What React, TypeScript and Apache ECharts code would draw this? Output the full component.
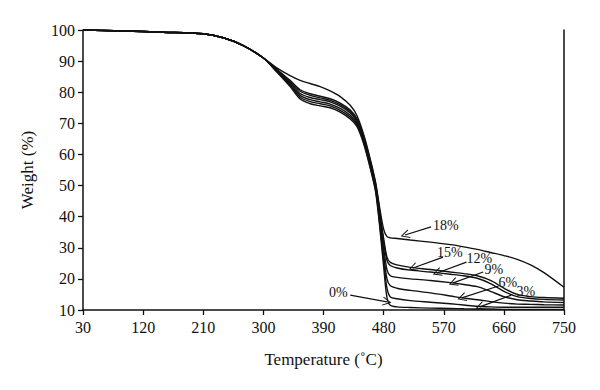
import React, { useEffect, useRef } from "react";
import * as echarts from "echarts";

// Temperature samples (°C)
const temps = [30, 90, 150, 210, 240, 270, 300, 320, 340, 355, 370, 385, 400, 415, 430, 440, 450, 460, 468, 474, 480, 485, 490, 500, 520, 550, 580, 600, 620, 640, 660, 680, 700, 720, 750];

// Weight (%) for each filler loading
const w18 = [100, 99.7, 99.3, 98.8, 97.5, 95, 91, 87.8, 85.3, 83.8, 82.8, 81.8, 80.4, 78.6, 75.8, 72.5, 66.5, 58.5, 51, 43, 36, 33.6, 33.2, 33, 32.5, 31.8, 31, 30.3, 29.5, 28.5, 27.5, 26.3, 24.5, 22, 17.3];
const w15 = [100, 99.7, 99.3, 98.8, 97.5, 95, 91, 87.4, 83.8, 80.8, 79.5, 78.7, 77.9, 76.5, 74.3, 71.5, 66, 58, 50.5, 42, 33, 27, 25.3, 24.5, 23.7, 23, 22.2, 21.7, 21, 19.5, 17, 15, 14.3, 14, 13.8];
const w12 = [100, 99.7, 99.3, 98.8, 97.5, 95, 91, 87.3, 83.4, 80.3, 79, 78.2, 77.4, 76, 73.8, 71, 65.5, 57.5, 50, 41, 32, 26, 24.3, 23.5, 22.8, 22.2, 21.5, 21, 20.2, 18.5, 16, 14.3, 13.7, 13.4, 13.2];
const w9 = [100, 99.7, 99.3, 98.8, 97.5, 95, 91, 87.1, 83, 79.6, 78.3, 77.6, 76.9, 75.5, 73.3, 70.5, 65, 57, 49.5, 40, 30, 23, 21, 20.5, 20, 19.5, 18.8, 18.2, 17.5, 16, 14.3, 13.3, 12.9, 12.6, 12.4];
const w6 = [100, 99.7, 99.3, 98.8, 97.5, 95, 91, 86.9, 82.6, 79, 77.6, 76.9, 76.2, 74.8, 72.6, 70, 64.5, 56.5, 49, 39, 28, 20, 17.8, 17, 16.3, 15.5, 14.5, 13.8, 13.3, 12.7, 12.2, 11.9, 11.8, 11.7, 11.6];
const w3 = [100, 99.7, 99.3, 98.8, 97.5, 95, 91, 86.7, 82.2, 78.4, 77, 76.3, 75.6, 74.2, 72, 69.5, 64, 56, 48.5, 38, 26, 17, 14.2, 13.6, 13, 12.5, 12, 11.6, 11.2, 11, 10.9, 10.9, 10.9, 10.9, 10.9];
const w0 = [100, 99.7, 99.3, 98.8, 97.5, 95, 91, 86.5, 81.8, 77.8, 76.3, 75.6, 75, 73.6, 71.4, 69, 63.5, 55.5, 48, 37, 24, 14, 11.5, 11, 10.8, 10.6, 10.5, 10.4, 10.3, 10.3, 10.2, 10.2, 10.2, 10.2, 10.2];

const seriesNames = ["18%", "15%", "12%", "9%", "6%", "3%", "0%"];
const seriesValues = [w18, w15, w12, w9, w6, w3, w0];

// Tick labels
const xTicks = [30, 120, 210, 300, 390, 480, 570, 660, 750];
const yTicks = [10, 20, 30, 40, 50, 60, 70, 80, 90, 100];

// Annotation anchors (data coords): label position, arrow start, arrow tip
const labelTemps = [554, 560, 604, 631, 652, 679, 426];
const labelWeights = [37.3, 28.6, 26.7, 22.9, 19.0, 16.1, 15.5];
const arrowFromTemps = [551, 569, 604, 629, 652, 671, 430];
const arrowFromWeights = [36.7, 27.0, 25.4, 22.2, 17.7, 14.8, 14.8];
const arrowToTemps = [512, 524, 560, 584, 597, 624, 485];
const arrowToWeights = [34.1, 23.5, 21.9, 18.7, 13.9, 11.0, 12.6];

const FONT = "'Liberation Serif', 'DejaVu Serif', serif";
const CHEVRON = "path://M0,0 L6,11 L4.8,11.6 L0,2.6 L-4.8,11.6 L-6,11 Z";

export default function App() {
  const ref = useRef<HTMLDivElement>(null);

  useEffect(() => {
    if (!ref.current) return;
    const chart = echarts.init(ref.current, undefined, { renderer: "svg" });

    const series: any[] = seriesNames.map((name, i) => ({
      name,
      type: "line",
      data: temps.map((t, k) => [t, seriesValues[i][k]]),
      smooth: 0.3,
      showSymbol: false,
      symbol: "none",
      lineStyle: { color: "#111", width: 1.4 },
      z: 2,
      markLine: {
        silent: true,
        symbol: ["none", CHEVRON],
        symbolSize: [9, 9],
        label: { show: false },
        lineStyle: { color: "#111", width: 1.2, type: "solid" },
        itemStyle: { color: "#111" },
        data: [
          [
            { coord: [arrowFromTemps[i], arrowFromWeights[i]] },
            { coord: [arrowToTemps[i], arrowToWeights[i]] },
          ],
        ],
      },
    }));

    const option: any = {
      animation: false,
      backgroundColor: "#fff",
      grid: { left: 83, right: 36, top: 30, bottom: 80, containLabel: false },
      xAxis: {
        type: "value",
        min: 30,
        max: 750,
        name: "Temperature (˚C)",
        nameLocation: "middle",
        nameGap: 41,
        nameTextStyle: { fontFamily: FONT, fontSize: 17, color: "#111" },
        axisLine: { show: true, onZero: false, lineStyle: { color: "#111", width: 1.5 } },
        axisTick: { show: true, length: 5, inside: false, customValues: xTicks, lineStyle: { color: "#111", width: 1.3 } },
        axisLabel: { customValues: xTicks, fontFamily: FONT, fontSize: 16, color: "#111", margin: 9 },
        splitLine: { show: false },
      },
      yAxis: [
        {
          type: "value",
          min: 10,
          max: 100,
          interval: 10,
          name: "Weight (%)",
          nameLocation: "middle",
          nameGap: 47,
          nameRotate: 90,
          nameTextStyle: { fontFamily: FONT, fontSize: 17, color: "#111" },
          axisLine: { show: true, onZero: false, lineStyle: { color: "#111", width: 1.5 } },
          axisTick: { show: true, length: 5, lineStyle: { color: "#111", width: 1.3 } },
          axisLabel: {
            fontFamily: FONT,
            fontSize: 16,
            color: "#111",
            margin: 8,
            formatter: (v: number) => (yTicks.includes(v) ? String(v) : ""),
          },
          splitLine: { show: false },
        },
        {
          type: "value",
          min: 10,
          max: 100,
          interval: 10,
          position: "right",
          axisLine: { show: true, onZero: false, lineStyle: { color: "#111", width: 1.5 } },
          axisTick: { show: false },
          axisLabel: { show: false },
          splitLine: { show: false },
        },
      ],
      series,
    };

    chart.setOption(option);

    const graphics = seriesNames.map((name, i) => {
      const p = chart.convertToPixel({ xAxisIndex: 0, yAxisIndex: 0 }, [labelTemps[i], labelWeights[i]]) as number[];
      return {
        type: "text",
        x: p[0],
        y: p[1],
        style: {
          text: name,
          font: `14px ${FONT}`,
          fill: "#111",
          textAlign: name === "0%" ? "right" : "left",
          textVerticalAlign: "middle",
        },
        z: 10,
      };
    });
    chart.setOption({ graphic: graphics });

    return () => chart.dispose();
  }, []);

  return <div ref={ref} style={{ width: 600, height: 390, margin: -8 }} />;
}
